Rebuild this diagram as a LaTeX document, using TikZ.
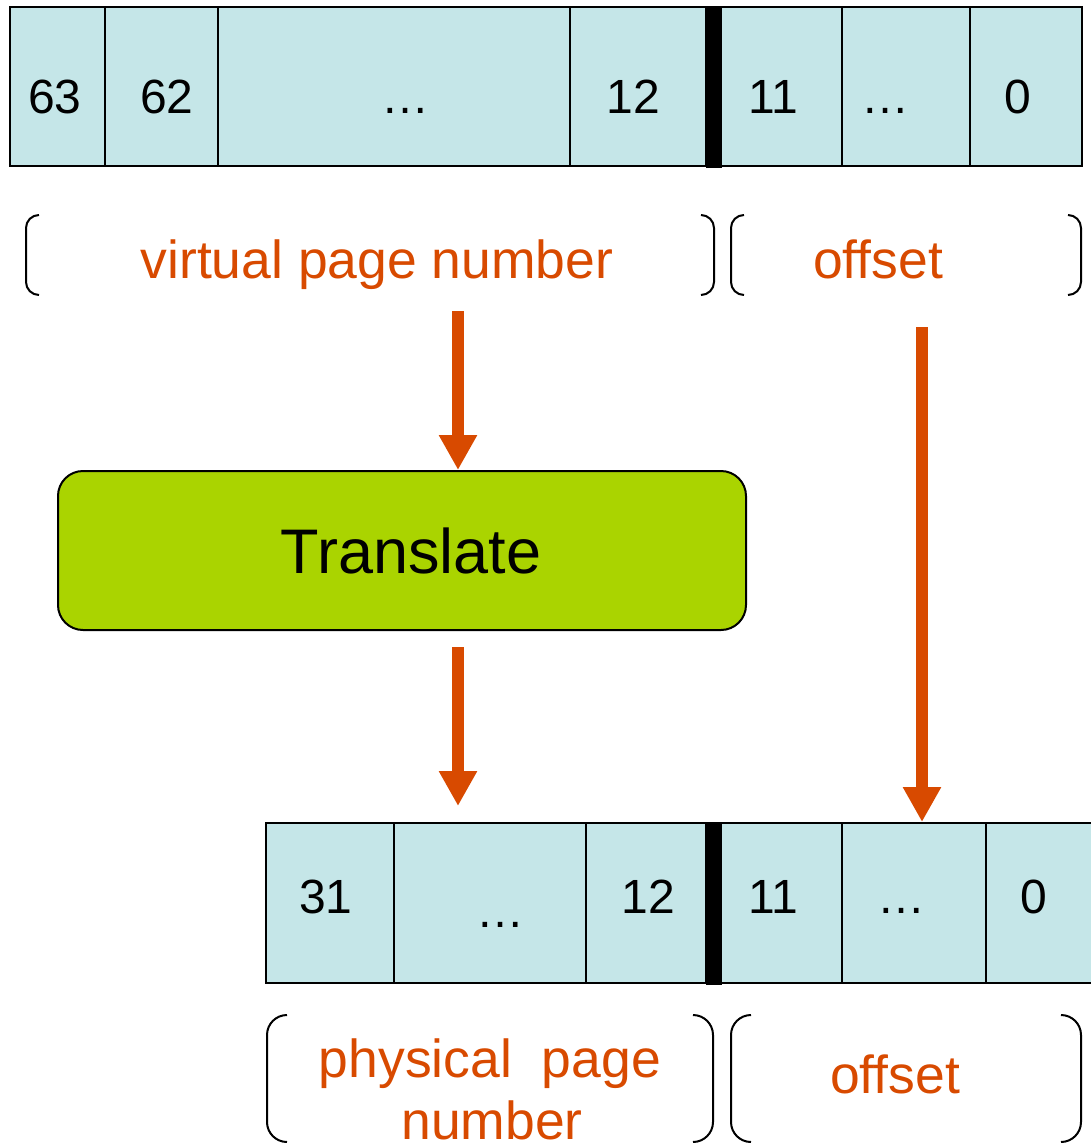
\documentclass[tikz,border=0pt]{standalone}
\usepackage{fontspec}
\setmainfont{Liberation Sans}
\usetikzlibrary{arrows.meta}
\definecolor{cellc}{RGB}{197,230,232}
\definecolor{orng}{RGB}{216,74,0}
\definecolor{grn}{RGB}{170,212,0}
\tikzset{
  cell/.style={draw=black, line width=2pt, fill=cellc, inner sep=0pt},
  sepbar/.style={draw=black, fill=black, line width=0pt, inner sep=0pt, minimum width=15pt},
  num/.style={font=\fontsize{48}{56}\selectfont, anchor=base, inner sep=0pt},
  lbl/.style={font=\fontsize{53.5}{62}\selectfont, text=orng, anchor=base, inner sep=0pt},
  brk/.style={draw=black, line width=2pt},
  arr/.style={draw=orng, line width=12pt, -{Triangle[width=36pt,length=35pt]}},
  trbox/.style={draw=black, line width=2pt, fill=grn, rounded corners=25pt,
     minimum width=688pt, minimum height=159pt, inner sep=0pt,
     font=\fontsize{63}{70}\selectfont}
}
\begin{document}
\begin{tikzpicture}[x=1pt,y=-1pt]
\clip (0,0) rectangle (1091,1143);
% top bar
\node[cell, minimum width=95pt,  minimum height=159pt] (t63) at (57.5,86.5) {};
\node[cell, minimum width=113pt, minimum height=159pt] (t62) at (161.5,86.5) {};
\node[cell, minimum width=352pt, minimum height=159pt] (tdA) at (394,86.5) {};
\node[cell, minimum width=136pt, minimum height=159pt] (t12) at (638,86.5) {};
\node[sepbar, minimum height=161pt] (tsep) at (713.5,86.5) {};
\node[cell, minimum width=121pt, minimum height=159pt] (t11) at (781.5,86.5) {};
\node[cell, minimum width=128pt, minimum height=159pt] (tdB) at (906,86.5) {};
\node[cell, minimum width=112pt, minimum height=159pt] (t0) at (1026,86.5) {};
\node[num] (n63) at (55,113) {63};
\node[num] (n62) at (167,113) {62};
\node[num] (ndA) at (405,113) {…};
\node[num] (n12) at (633,113) {12};
\node[num] (n11) at (773,113) {11};
\node[num] (ndB) at (885,113) {…};
\node[num] (n0) at (1018,113) {0};
% top brackets
\draw[brk, rounded corners=13pt] (39,215) -- (26,215) -- (26,295) -- (39,295);
\draw[brk, rounded corners=13pt] (701,215) -- (714,215) -- (714,295) -- (701,295);
\draw[brk, rounded corners=13pt] (744,215) -- (731,215) -- (731,295) -- (744,295);
\draw[brk, rounded corners=13pt] (1068,215) -- (1081,215) -- (1081,295) -- (1068,295);
\node[lbl] (vpn) at (377,278) {virtual page number};
\node[lbl] (voff) at (878,278) {offset};
% translate
\node[trbox] (tr) at (402,550.5) {\hspace*{18pt}\raisebox{-4pt}{Translate}};
% bottom bar
\node[cell, minimum width=128pt, minimum height=160pt] (b31) at (330,903) {};
\node[cell, minimum width=192pt, minimum height=160pt] (bdA) at (490,903) {};
\node[cell, minimum width=120pt, minimum height=160pt] (b12) at (646,903) {};
\node[sepbar, minimum height=162pt] (bsep) at (713.5,903) {};
\node[cell, minimum width=121pt, minimum height=160pt] (b11) at (781.5,903) {};
\node[cell, minimum width=144pt, minimum height=160pt] (bdB) at (914,903) {};
\node[cell, minimum width=114pt, minimum height=160pt] (b0) at (1043,903) {};
\node[num] (m31) at (326,913) {31};
\node[num] (mdA) at (500,927) {…};
\node[num] (m12) at (648,913) {12};
\node[num] (m11) at (773,913) {11};
\node[num] (mdB) at (901,913) {…};
\node[num] (m0) at (1034,913) {0};
% bottom brackets
\draw[brk, rounded corners=20pt] (287,1015) -- (267,1015) -- (267,1142) -- (287,1142);
\draw[brk, rounded corners=20pt] (693,1015) -- (713,1015) -- (713,1142) -- (693,1142);
\draw[brk, rounded corners=20pt] (751,1015) -- (731,1015) -- (731,1142) -- (751,1142);
\draw[brk, rounded corners=20pt] (1061,1015) -- (1081,1015) -- (1081,1142) -- (1061,1142);
\node[lbl] (ppn1) at (490,1077) {physical\ \ page};
\node[lbl] (ppn2) at (492,1139) {number};
\node[lbl] (poff) at (895,1093) {offset};
% arrows
\coordinate (s1) at (458,311);
\coordinate (s2) at (458,647);
\coordinate (e2) at (458,806);
\coordinate (s3) at (922,327);
\draw[arr] (s1) -- (s1 |- tr.north);
\draw[arr] (s2) -- (e2);
\draw[arr] (s3) -- (s3 |- bdB.north);
\end{tikzpicture}
\end{document}
